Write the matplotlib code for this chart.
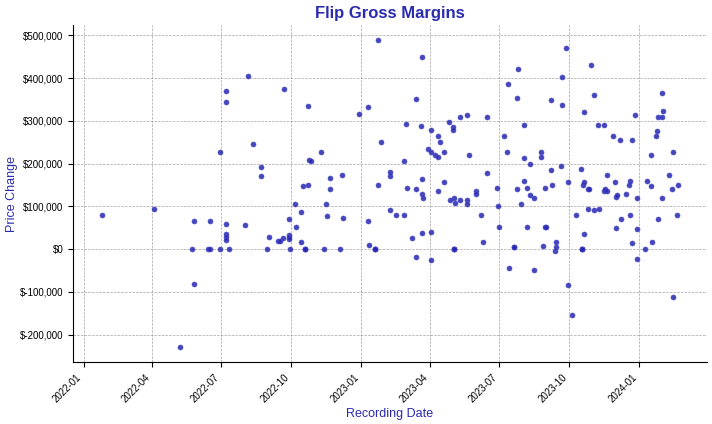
import pandas as pd
import matplotlib
matplotlib.use('Agg')
import matplotlib.pyplot as plt
import matplotlib.dates as mdates
from matplotlib.ticker import FuncFormatter

plt.rcParams['font.family'] = ['Liberation Sans', 'DejaVu Sans']

# recording dates and gross margin (price change) per flip
dates_2022 = [
    '2022-01-25', '2022-04-04', '2022-05-08', '2022-05-24', '2022-05-26', '2022-05-26',
    '2022-06-13', '2022-06-16', '2022-06-16', '2022-06-29', '2022-06-29',
    '2022-07-07', '2022-07-07', '2022-07-07', '2022-07-07', '2022-07-07', '2022-07-07',
    '2022-07-11', '2022-08-01', '2022-08-05', '2022-08-12', '2022-08-22', '2022-08-22',
    '2022-08-30', '2022-09-01', '2022-09-13', '2022-09-16', '2022-09-20', '2022-09-21',
    '2022-09-28', '2022-09-28', '2022-09-28', '2022-09-28', '2022-09-29',
    '2022-10-06', '2022-10-07', '2022-10-14', '2022-10-14', '2022-10-16', '2022-10-19',
    '2022-10-19', '2022-10-19', '2022-10-23', '2022-10-23', '2022-10-24', '2022-10-27',
    '2022-11-09', '2022-11-13', '2022-11-15', '2022-11-17', '2022-11-21', '2022-11-21',
    '2022-12-04', '2022-12-07', '2022-12-08', '2022-12-29',
]
change_2022 = [
    81000, 93000, -228000, 0, 67000, -81000,
    0, 65000, 0, 226000, 0,
    370000, 344000, 60000, 35000, 28000, 21000,
    0, 56000, 405000, 246000, 191000, 172000,
    0, 28000, 19000, 19000, 26000, 374000,
    70000, 33000, 28000, 23000, 0,
    105000, 53000, 86000, 16000, 147000, 0,
    0, 0, 335000, 151000, 209000, 205000,
    226000, 0, 105000, 77000, 167000, 140000,
    0, 174000, 72000, 316000,
]

dates_2023 = [
    '2023-01-09', '2023-01-10', '2023-01-11', '2023-01-19', '2023-01-19', '2023-01-19',
    '2023-01-23', '2023-01-23', '2023-01-27', '2023-02-07', '2023-02-07', '2023-02-08',
    '2023-02-15', '2023-02-26', '2023-02-26', '2023-02-28', '2023-03-02', '2023-03-09',
    '2023-03-13', '2023-03-13', '2023-03-14', '2023-03-20', '2023-03-21', '2023-03-21',
    '2023-03-21', '2023-03-22', '2023-03-23', '2023-03-30', '2023-04-03', '2023-04-03',
    '2023-04-03', '2023-04-03', '2023-04-07', '2023-04-11', '2023-04-12', '2023-04-12',
    '2023-04-14', '2023-04-20', '2023-04-20', '2023-04-26', '2023-04-27', '2023-05-01',
    '2023-05-01', '2023-05-02', '2023-05-02', '2023-05-02', '2023-05-03', '2023-05-04',
    '2023-05-10', '2023-05-11', '2023-05-19', '2023-05-19', '2023-05-19', '2023-05-22',
    '2023-05-31', '2023-06-01', '2023-06-07', '2023-06-09', '2023-06-15', '2023-06-15',
    '2023-06-28', '2023-06-29', '2023-06-30', '2023-07-07', '2023-07-11', '2023-07-12',
    '2023-07-14', '2023-07-20', '2023-07-20', '2023-07-24', '2023-07-24', '2023-07-26',
    '2023-07-30', '2023-08-02', '2023-08-03', '2023-08-03', '2023-08-07', '2023-08-07',
    '2023-08-10', '2023-08-10', '2023-08-15', '2023-08-15', '2023-08-25', '2023-08-25',
    '2023-08-27', '2023-08-30', '2023-08-30', '2023-08-31', '2023-09-07', '2023-09-07',
    '2023-09-08', '2023-09-12', '2023-09-13', '2023-09-13', '2023-09-20', '2023-09-22',
    '2023-09-22', '2023-09-27', '2023-09-29', '2023-09-29', '2023-10-04', '2023-10-10',
    '2023-10-16', '2023-10-18', '2023-10-18', '2023-10-18', '2023-10-19', '2023-10-20',
    '2023-10-20', '2023-10-20', '2023-10-26', '2023-10-26', '2023-10-27', '2023-10-30',
    '2023-11-02', '2023-11-02', '2023-11-08', '2023-11-09', '2023-11-15', '2023-11-16',
    '2023-11-17', '2023-11-20', '2023-11-20', '2023-11-28', '2023-11-30', '2023-12-01',
    '2023-12-01', '2023-12-03', '2023-12-07', '2023-12-08', '2023-12-14', '2023-12-19',
    '2023-12-20', '2023-12-20', '2023-12-22', '2023-12-22', '2023-12-26', '2023-12-29',
    '2023-12-29', '2023-12-29',
]
change_2023 = [
    67000, 333000, 9000, 0, 0, 0,
    488000, 149000, 251000, 170000, 91000, 181000,
    79000, 205000, 81000, 293000, 142000, 26000,
    351000, -19000, 140000, 288000, 449000, 165000,
    37000, 130000, 119000, 235000, 279000, 226000,
    40000, -26000, 221000, 265000, 216000, 135000,
    251000, 226000, 158000, 298000, 116000, 286000,
    279000, 0, 0, 0, 119000, 109000,
    309000, 114000, 314000, 116000, 105000, 221000,
    137000, 130000, 81000, 16000, 309000, 177000,
    144000, 100000, 51000, 265000, 226000, 386000,
    -44000, 5000, 5000, 353000, 140000, 421000,
    105000, 214000, 291000, 160000, 144000, 51000,
    200000, 126000, 119000, -49000, 226000, 216000,
    7000, 144000, 53000, 51000, 349000, 186000,
    151000, -5000, 16000, 5000, 195000, 402000,
    337000, 470000, 158000, -84000, -154000, 81000,
    188000, 0, 0, 0, 151000, 321000,
    156000, 35000, 140000, 93000, 140000, 430000,
    360000, 91000, 291000, 95000, 135000, 291000,
    140000, 174000, 135000, 265000, 156000, 121000,
    49000, 126000, 256000, 70000, 130000, 149000,
    160000, 81000, 256000, 14000, 314000, 119000,
    47000, -23000,
]

dates_2024 = [
    '2024-01-09', '2024-01-11', '2024-01-16', '2024-01-16', '2024-01-18', '2024-01-23',
    '2024-01-24', '2024-01-26', '2024-01-26', '2024-01-31', '2024-01-31', '2024-01-31',
    '2024-02-01', '2024-02-09', '2024-02-13', '2024-02-14', '2024-02-14', '2024-02-20',
    '2024-02-21',
]
change_2024 = [
    0, 160000, 221000, 147000, 16000, 265000,
    277000, 309000, 70000, 365000, 309000, 119000,
    323000, 174000, 140000, 226000, -112000, 81000,
    151000,
]

df = pd.DataFrame({
    'Recording Date': pd.to_datetime(dates_2022 + dates_2023 + dates_2024),
    'Price Change': change_2022 + change_2023 + change_2024,
})

label_color = '#2b2bb0'

fig, ax = plt.subplots(figsize=(7.12, 4.24), dpi=100)
ax.scatter(df['Recording Date'], df['Price Change'], s=13, color='#2626b0',
           alpha=0.85, edgecolors='#4a4ac8', linewidths=0.5, zorder=3)

ax.set_title('Flip Gross Margins', fontsize=12, fontweight='bold', color=label_color, pad=5)
ax.set_xlabel('Recording Date', fontsize=9, color=label_color, labelpad=3)
ax.set_ylabel('Price Change', fontsize=9, color=label_color, labelpad=1)

ax.xaxis.set_major_locator(mdates.MonthLocator(bymonth=[1, 4, 7, 10]))
ax.xaxis.set_major_formatter(mdates.DateFormatter('%Y-%m'))
ax.yaxis.set_major_formatter(FuncFormatter(lambda v, p: '${:,.0f}'.format(v)))
plt.setp(ax.get_xticklabels(), rotation=45, ha='right')
ax.tick_params(labelsize=7)

ax.grid(True, linestyle='--', color='gray', linewidth=0.5, alpha=0.7)
ax.set_axisbelow(True)
ax.spines['top'].set_visible(False)
ax.spines['right'].set_visible(False)

plt.subplots_adjust(left=0.1025, right=0.993, bottom=0.146, top=0.941)
plt.savefig('out.png')
